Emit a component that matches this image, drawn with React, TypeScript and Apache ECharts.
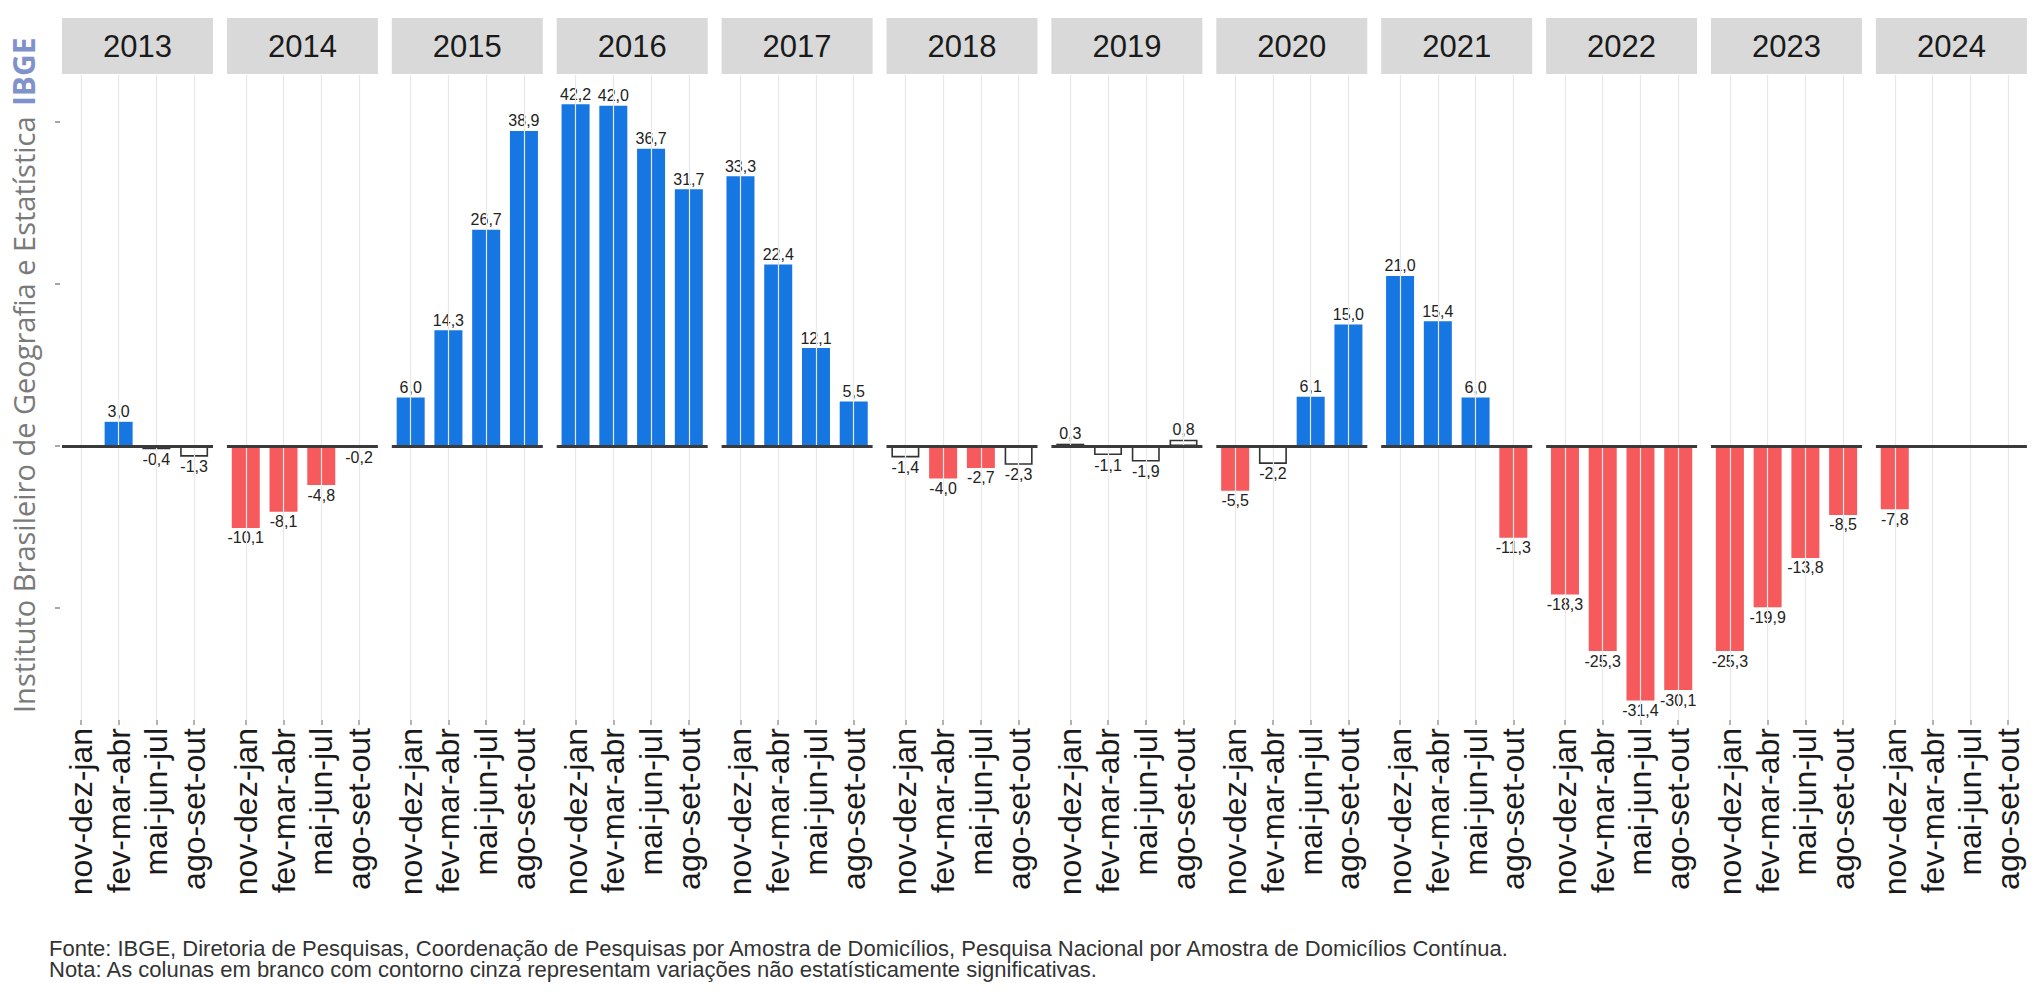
import React, { useEffect, useRef } from "react";
import * as echarts from "echarts";

// ---------- data ----------
const years = ["2013", "2014", "2015", "2016", "2017", "2018", "2019", "2020", "2021", "2022", "2023", "2024"];
const periods = ["nov-dez-jan", "fev-mar-abr", "mai-jun-jul", "ago-set-out"];

const v2013 = [null, 3.0, -0.4, -1.3];
const v2014 = [-10.1, -8.1, -4.8, -0.2];
const v2015 = [6.0, 14.3, 26.7, 38.9];
const v2016 = [42.2, 42.0, 36.7, 31.7];
const v2017 = [33.3, 22.4, 12.1, 5.5];
const v2018 = [-1.4, -4.0, -2.7, -2.3];
const v2019 = [0.3, -1.1, -1.9, 0.8];
const v2020 = [-5.5, -2.2, 6.1, 15.0];
const v2021 = [21.0, 15.4, 6.0, -11.3];
const v2022 = [-18.3, -25.3, -31.4, -30.1];
const v2023 = [-25.3, -19.9, -13.8, -8.5];
const v2024 = [-7.8, null, null, null];

// 1 = statistically significant, 0 = not significant
const s2013 = [0, 1, 0, 0];
const s2014 = [1, 1, 1, 0];
const s2015 = [1, 1, 1, 1];
const s2016 = [1, 1, 1, 1];
const s2017 = [1, 1, 1, 1];
const s2018 = [0, 1, 1, 0];
const s2019 = [0, 0, 0, 0];
const s2020 = [1, 0, 1, 1];
const s2021 = [1, 1, 1, 1];
const s2022 = [1, 1, 1, 1];
const s2023 = [1, 1, 1, 1];
const s2024 = [1, 0, 0, 0];

const yTicks = [-20, 0, 20, 40];

const values = [v2013, v2014, v2015, v2016, v2017, v2018, v2019, v2020, v2021, v2022, v2023, v2024];
const signif = [s2013, s2014, s2015, s2016, s2017, s2018, s2019, s2020, s2021, s2022, s2023, s2024];

const yAxisTitle = "Instituto Brasileiro de Geografia e Estatística";
const yAxisBrand = "IBGE";
const footer1 =
  "Fonte: IBGE, Diretoria de Pesquisas, Coordenação de Pesquisas por Amostra de Domicílios, Pesquisa Nacional por Amostra de Domicílios Contínua.";
const footer2 = "Nota: As colunas em branco com contorno cinza representam variações não estatísticamente significativas.";

// ---------- style / layout ----------
const BLUE = "#1676e2";
const RED = "#f65a5c";
const FONT = "Liberation Sans, Arial, sans-serif";
const PANEL_LEFT0 = 62;
const PANEL_PITCH = 164.9;
const PANEL_W = 151;
const PANEL_TOP = 75;
const PANEL_H = 645;
const STRIP_TOP = 18;
const Y_MIN = -33.8;
const Y_MAX = 45.8;

const fmt = (v: number) => v.toFixed(1).replace(".", ",");

export default function App() {
  const ref = useRef<HTMLDivElement>(null);

  useEffect(() => {
    if (!ref.current) return;
    const chart = echarts.init(ref.current, undefined, { renderer: "svg" });

    const grids: any[] = [];
    const xAxes: any[] = [];
    const yAxes: any[] = [];
    const series: any[] = [];
    const graphics: any[] = [];

    years.forEach((yr, i) => {
      const left = PANEL_LEFT0 + i * PANEL_PITCH;
      grids.push({ left, top: PANEL_TOP, width: PANEL_W, height: PANEL_H, containLabel: false });
      xAxes.push({
        type: "category",
        gridIndex: i,
        data: periods,
        axisLine: { show: false, onZero: false },
        axisTick: { show: true, alignWithLabel: true, length: 5, lineStyle: { color: "#9a9a9a", width: 1.5 } },
        axisLabel: {
          rotate: 90,
          interval: 0,
          fontSize: 32,
          color: "#1a1a1a",
          fontFamily: FONT,
          margin: 8,
        },
        splitLine: { show: false },
      });
      yAxes.push({
        type: "value",
        gridIndex: i,
        min: Y_MIN,
        max: Y_MAX,
        show: i === 0,
        offset: 2,
        axisLine: { show: false },
        axisLabel: { show: false },
        axisTick: i === 0
          ? { show: true, length: 5, customValues: yTicks, lineStyle: { color: "#8a8a8a", width: 1.5 } }
          : { show: false },
        splitLine: { show: false },
      });

      // vertical grid lines at category centres
      series.push({
        type: "line",
        xAxisIndex: i,
        yAxisIndex: i,
        data: [null, null, null, null],
        silent: true,
        z: 0,
        symbol: "none",
        markLine: {
          silent: true,
          symbol: ["none", "none"],
          label: { show: false },
          lineStyle: { color: "#e8e8e8", width: 1.2, type: "solid" },
          data: periods.map((p) => ({ xAxis: p })),
        },
      });

      const data = values[i].map((v, k) => {
        if (v === null) return null;
        const sig = signif[i][k] === 1;
        const pos = v >= 0;
        return {
          value: v,
          itemStyle: sig
            ? { color: pos ? BLUE : RED }
            : { color: "#ffffff", borderColor: "#333333", borderWidth: 1.6 },
          label: {
            show: true,
            position: pos ? "top" : "bottom",
            distance: 2,
            formatter: () => fmt(v),
            fontSize: 16,
            color: "#222222",
            fontFamily: FONT,
          },
        };
      });

      series.push({
        type: "bar",
        xAxisIndex: i,
        yAxisIndex: i,
        data,
        barWidth: 28,
        z: 2,
        markLine: {
          silent: true,
          symbol: ["none", "none"],
          label: { show: false },
          lineStyle: { color: "#3a3a3a", width: 3, type: "solid" },
          data: [{ yAxis: 0 }],
        },
      });

      graphics.push({
        type: "rect",
        shape: { x: left, y: STRIP_TOP, width: PANEL_W, height: PANEL_TOP - STRIP_TOP - 1 },
        style: { fill: "#d9d9d9" },
        silent: true,
      });
      graphics.push({
        type: "text",
        x: left + PANEL_W / 2,
        y: (STRIP_TOP + PANEL_TOP) / 2,
        style: {
          text: yr,
          fontSize: 31,
          fontFamily: FONT,
          fill: "#1a1a1a",
          align: "center",
          verticalAlign: "middle",
        },
        silent: true,
      });
    });

    graphics.push({
      type: "text",
      x: 23,
      y: 713,
      rotation: Math.PI / 2,
      style: {
        text: `{a|${yAxisTitle}}{s|  }{b|${yAxisBrand}}`,
        align: "left",
        verticalAlign: "middle",
        rich: {
          a: { fontSize: 29, fontFamily: "Open Sans, sans-serif", fill: "#7a7a7a" },
          s: { fontSize: 20, fontFamily: "Open Sans, sans-serif" },
          b: { fontSize: 30, fontFamily: "Open Sans, sans-serif", fontWeight: "bold", fill: "#7f92cc" },
        },
      },
      silent: true,
    });

    graphics.push({
      type: "text",
      x: 49,
      y: 948,
      style: { text: footer1, fontSize: 22, fontFamily: FONT, fill: "#333333", align: "left", verticalAlign: "middle" },
      silent: true,
    });
    graphics.push({
      type: "text",
      x: 49,
      y: 969,
      style: { text: footer2, fontSize: 22, fontFamily: FONT, fill: "#333333", align: "left", verticalAlign: "middle" },
      silent: true,
    });

    chart.setOption({
      animation: false,
      backgroundColor: "#ffffff",
      grid: grids,
      xAxis: xAxes,
      yAxis: yAxes,
      series,
      graphic: { elements: graphics },
    });

    return () => chart.dispose();
  }, []);

  return (
    <div
      ref={ref}
      style={{ position: "fixed", left: 0, top: 0, width: 2040, height: 998 }}
    />
  );
}
